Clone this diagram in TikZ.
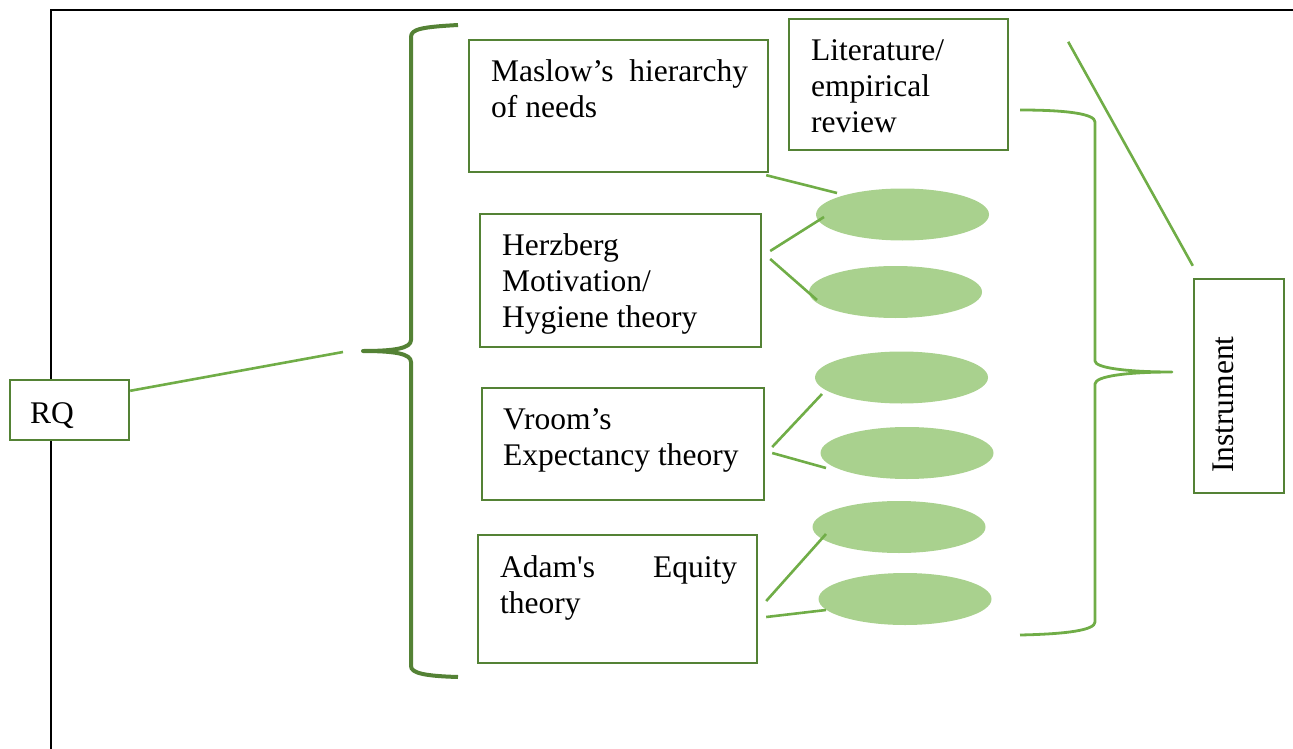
\documentclass[tikz,border=0pt]{standalone}
\usepackage{fontspec}
\setmainfont{Liberation Serif}[Ligatures=TeXOff]
\usetikzlibrary{shapes.geometric,calc}
\definecolor{darkgreen}{HTML}{548235}
\definecolor{midgreen}{HTML}{70AD47}
\definecolor{palegreen}{HTML}{A9D18E}
% several lines of text whose baseline is that of the first line
\newcommand\txtlines[1]{\begin{tabular}[t]{@{}l@{}}#1\end{tabular}}
\begin{document}
\begin{tikzpicture}[x=1pt,y=-1pt,
  box/.style 2 args={draw=darkgreen,fill=white,line width=2.4pt,inner sep=0pt,
    minimum width=#1,minimum height=#2},
  txt/.style={anchor=base west,inner sep=0pt,font=\fontsize{31.5}{36}\selectfont},
  oval/.style={ellipse,fill=palegreen,draw=none,inner sep=0pt,
    minimum width=173pt,minimum height=52pt},
  link/.style={midgreen,line width=2.6pt},
  bigbrace/.style={darkgreen,line width=4pt,line join=round},
  smallbrace/.style={midgreen,line width=2.8pt,line join=round},
  frame/.style={black,line width=2.4pt}]
\useasboundingbox (0,0) rectangle (1293,749);

% outer frame lines
\draw[frame] (51,749) -- (51,10) -- (1293,10);

% boxes
\node[box={119pt}{60pt}]  (rq)     at (69.5,410) {};
\node[box={299pt}{132pt}] (maslow) at (618.5,106) {};
\node[box={219pt}{131pt}] (lit)    at (898.5,84.5) {};
\node[box={281pt}{133pt}] (herz)   at (620.5,280.5) {};
\node[box={282pt}{112pt}] (vroom)  at (623,444) {};
\node[box={279pt}{128pt}] (adam)   at (617.5,599) {};
\node[box={90pt}{214pt}]  (instr)  at (1239,386) {};

% box texts
\node[txt] (rqt) at (30,423) {RQ};
\node[txt] (maslowt) at (491,82)
  {\txtlines{\makebox[257pt][s]{Maslow’s hierarchy}\\of needs}};
\node[txt] (litt) at (811,61) {\txtlines{Literature/\\empirical\\review}};
\node[txt] (herzt) at (502,255)
  {\txtlines{Herzberg\\Motivation/\\Hygiene theory}};
\node[txt] (vroomt) at (503,429) {\txtlines{Vroom’s\\Expectancy theory}};
\node[txt] (adamt) at (500,577)
  {\txtlines{\makebox[237pt][s]{Adam's Equity}\\theory}};
\node[txt,rotate=90] (instrt) at (1233,473) {Instrument};

% ovals
\node[oval] (e1) at (902.5,214.5) {};
\node[oval] (e2) at (895.5,292) {};
\node[oval] (e3) at (901.5,377.5) {};
\node[oval] (e4) at (907,453) {};
\node[oval] (e5) at (899,527) {};
\node[oval] (e6) at (905,599) {};

% left brace
\coordinate (lbtip) at (363,351);
\draw[bigbrace] (458,25) .. controls (422,27) and (411,29) .. (411,37)
  -- (411,340) .. controls (411,348) and (396,351) .. (lbtip)
  .. controls (396,351) and (411,354) .. (411,362)
  -- (411,666) .. controls (411,673) and (424,676) .. (458,677);

% right brace
\coordinate (rbtip) at (1172,372);
\draw[smallbrace] (1020,110) .. controls (1068,110) and (1095,114) .. (1095,122)
  -- (1095,361) .. controls (1095,368) and (1128,372) .. (rbtip)
  .. controls (1128,372) and (1095,376) .. (1095,384)
  -- (1095,622) .. controls (1095,630) and (1068,634) .. (1020,635);

% connectors
\draw[link] ($(rq.north east)+(0,12)$) -- ($(lbtip)+(-20,1)$);
\draw[link] ($(maslow.south east)+(-3,2)$) -- ($(e1.center)+(-65.5,-21.5)$);
\draw[link] ($(herz.east)+(8,-29.5)$) -- ($(e1.center)+(-78.5,2.5)$);
\draw[link] ($(herz.east)+(8,-21.5)$) -- ($(e2.center)+(-78.5,8)$);
\draw[link] ($(vroom.east)+(7,3)$) -- ($(e3.center)+(-79.5,16.5)$);
\draw[link] ($(vroom.east)+(7,9)$) -- ($(e4.center)+(-81,15)$);
\draw[link] ($(adam.east)+(8,2)$) -- ($(e5.center)+(-73,7)$);
\draw[link] ($(adam.east)+(8,18)$) -- ($(e6.center)+(-79,11)$);
\draw[link] ($(lit.north east)+(59,24)$) -- ($(instr.north west)+(0,-12)$);
\end{tikzpicture}
\end{document}
